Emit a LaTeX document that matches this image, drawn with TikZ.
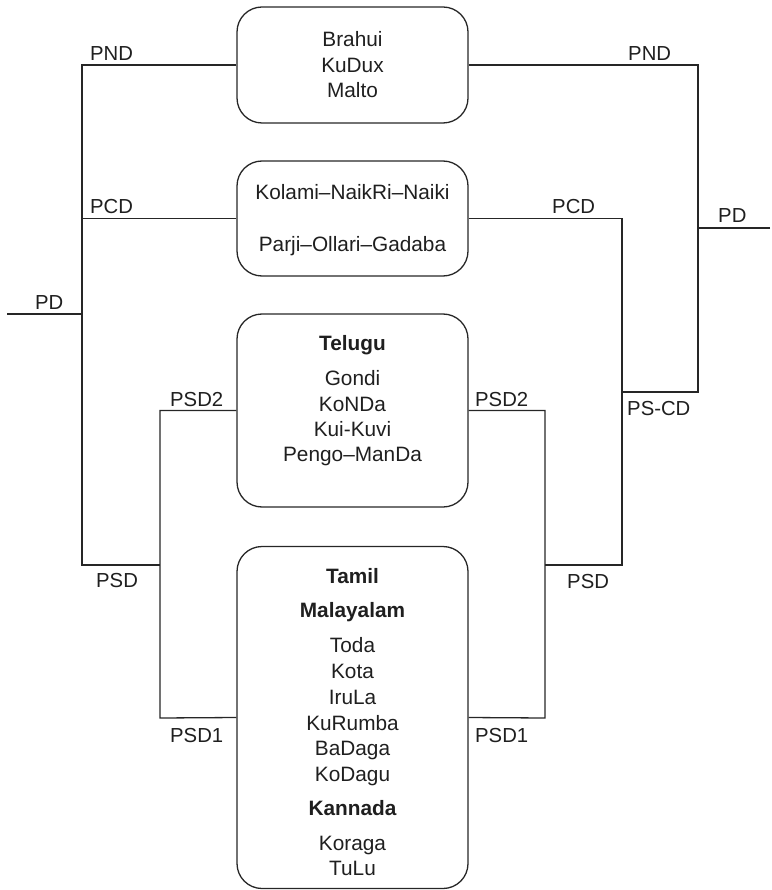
\documentclass[tikz,border=0pt]{standalone}
\usepackage{fontspec}
\setmainfont{Liberation Sans}
\begin{document}
\begin{tikzpicture}[x=1pt,y=-1pt,
  langbox/.style={draw=black!85, line width=1.3pt, rounded corners=25pt,
    minimum width=231pt, inner sep=0pt},
  conn/.style={draw=black!85, line width=1.3pt},
  lang/.style={anchor=base, inner sep=0pt, text=black!88,
    font=\fontsize{20.8}{25}\selectfont},
  blang/.style={lang, font=\fontsize{20.8}{25}\selectfont\bfseries},
  lbl/.style={anchor=base west, inner sep=0pt, text=black!88,
    font=\fontsize{20.3}{24}\selectfont}]
\useasboundingbox (0,0) rectangle (771,890);

% language group boxes
\node[langbox, minimum height=116pt] (box1) at (352.5,65) {};
\node[langbox, minimum height=115pt] (box2) at (352.5,218.5) {};
\node[langbox, minimum height=193pt] (box3) at (352.5,410.5) {};
\node[langbox, minimum height=342pt] (box4) at (352.5,717.5) {};

% box contents
\node[lang] (brahui) at (352.5,46.7) {Brahui};
\node[lang] (kudux)  at (352.5,72.5) {KuDux};
\node[lang] (malto)  at (352.5,97.5) {Malto};

\node[lang] (kolami) at (352.5,200) {Kolami–NaikRi–Naiki};
\node[lang] (parji)  at (352.5,251.5) {Parji–Ollari–Gadaba};

\node[blang] (telugu) at (352.5,350) {Telugu};
\node[lang] (gondi)  at (352.5,385.5) {Gondi};
\node[lang] (konda)  at (352.5,411) {KoNDa};
\node[lang] (kui)    at (352.5,436) {Kui-Kuvi};
\node[lang] (pengo)  at (352.5,461.5) {Pengo–ManDa};

\node[blang] (tamil)     at (352.5,583.3) {Tamil};
\node[blang] (malayalam) at (352.5,617.7) {Malayalam};
\node[lang] (toda)    at (352.5,652.5) {Toda};
\node[lang] (kota)    at (352.5,678.3) {Kota};
\node[lang] (irula)   at (352.5,704) {IruLa};
\node[lang] (kurumba) at (352.5,730) {KuRumba};
\node[lang] (badaga)  at (352.5,755.7) {BaDaga};
\node[lang] (kodagu)  at (352.5,781) {KoDagu};
\node[blang] (kannada) at (352.5,815.7) {Kannada};
\node[lang] (koraga)  at (352.5,850) {Koraga};
\node[lang] (tulu)    at (352.5,875.7) {TuLu};

% junction points of the left tree
\coordinate (lpd)   at (7,314);
\coordinate (lpsd)  at (82,565);
\coordinate (lpsdj) at (160,565);
\coordinate (lsub)  at (160,718);

% junction points of the right tree
\coordinate (rpd)   at (770,228);
\coordinate (rpscd) at (698,392);
\coordinate (rpscdj) at (622,392);
\coordinate (rpsd)  at (622,565);
\coordinate (rpsdj) at (545,565);
\coordinate (rsub)  at (545,718);

% left tree
\draw[conn] (box1.west) -| (lpsd) -- (lpsdj);
\draw[conn] (box2.west) -- (box2.west -| lpsd);
\draw[conn] (lpd) -- (lpd -| lpsd);
\draw[conn] (box3.west) -| (lsub) -- (box4.west);

% right tree
\draw[conn] (box1.east) -| (rpscd) -- (rpscdj);
\draw[conn] (rpd) -- (rpd -| rpscd);
\draw[conn] (box2.east) -| (rpsd) -- (rpsdj);
\draw[conn] (box3.east) -| (rsub) -- (box4.east);

% branch labels
\node[lbl] (lpndl)  at (90,60.5)  {PND};
\node[lbl] (lpcdl)  at (90,214)   {PCD};
\node[lbl] (lpdl)   at (35,309.5) {PD};
\node[lbl] (lpsd2l) at (170,406)  {PSD2};
\node[lbl] (lpsdl)  at (96,587)   {PSD};
\node[lbl] (lpsd1l) at (170,742)  {PSD1};

\node[lbl] (rpndl)  at (628,60.5) {PND};
\node[lbl] (rpcdl)  at (552,213.5) {PCD};
\node[lbl] (rpdl)   at (718,223)  {PD};
\node[lbl] (rpscdl) at (627,415)  {PS-CD};
\node[lbl] (rpsd2l) at (475,406)  {PSD2};
\node[lbl] (rpsdl)  at (567,588)  {PSD};
\node[lbl] (rpsd1l) at (475,742)  {PSD1};
\end{tikzpicture}
\end{document}
